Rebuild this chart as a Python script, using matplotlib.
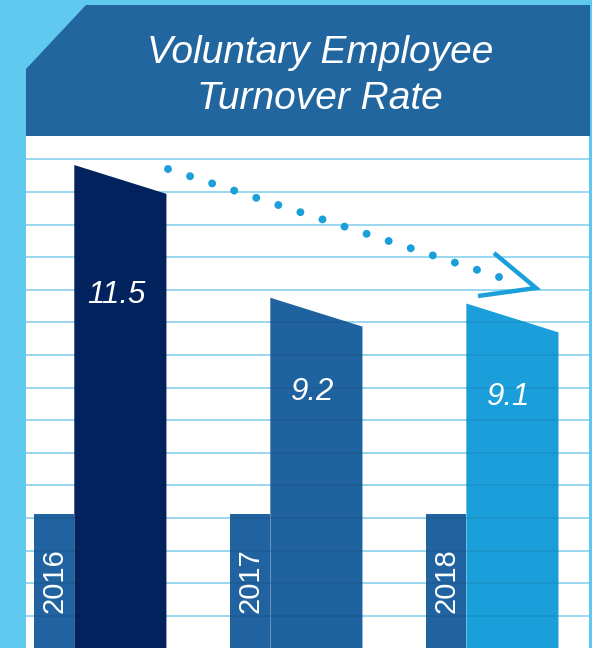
import matplotlib.pyplot as plt
from matplotlib.patches import Polygon, Rectangle

# data
years = ['2016', '2017', '2018']
rates = [11.5, 9.2, 9.1]
value_labels = ['11.5', '9.2', '9.1']
bar_colors = ['#03235F', '#1F62A0', '#1B9FDA']

title_lines = ['Voluntary Employee', 'Turnover Rate']

# styles
SKY = '#5FC9EF'
BANNER = '#2266A0'
TAB = '#2163A0'
GRID = '#92D5F0'
FONT = 'Liberation Sans'

fig = plt.figure(figsize=(5.92, 6.48), dpi=100)
fig.patch.set_facecolor(SKY)

# background decorations in pixel coordinates
bg = fig.add_axes([0, 0, 1, 1], zorder=0)
bg.set_xlim(0, 592)
bg.set_ylim(648, 0)
bg.axis('off')

bg.add_patch(Rectangle((26, 136), 563, 512, facecolor='white', edgecolor='none'))
bg.add_patch(Polygon([(26, 69), (86, 5), (590, 5), (590, 136), (26, 136)],
                     closed=True, facecolor=BANNER, edgecolor='none'))
grid_y = []
y = 159.3
while y < 648:
    grid_y.append(y)
    bg.plot([26, 589], [y, y], color=GRID, lw=1.3, solid_capstyle='butt')
    y += 32.6

bg.text(320, 63, title_lines[0], ha='center', va='baseline', color='white',
        fontsize=28, style='italic', family=FONT)
bg.text(320, 109, title_lines[1], ha='center', va='baseline', color='white',
        fontsize=28, style='italic', family=FONT)

# dotted trend arrow
n_dots = 16
xs = [168 + (499 - 168) * k / (n_dots - 1) for k in range(n_dots)]
ys = [169 + (277 - 169) * k / (n_dots - 1) for k in range(n_dots)]
bg.scatter(xs, ys, s=32, color='#1B9FDA', edgecolors='none', zorder=3)
bg.plot([494, 536, 478], [253, 288, 296], color='#1B9FDA', lw=3.2,
        solid_capstyle='butt', solid_joinstyle='miter', zorder=3)

# bars in data coordinates
ax = fig.add_axes([0, 0, 1, 1], zorder=1)
ax.patch.set_visible(False)
ax.axis('off')
ax.set_xlim(-0.614, 2.406)
ax.set_ylim(3.13, 14.36)

bar_w = 0.47
tab_w = 0.205
tab_top = 5.45
slant = 0.5
base = 3.13
ruling = [3.13 + (648 - gy) / 648 * (14.36 - 3.13) for gy in grid_y]

for i, (yr, v, lab, c) in enumerate(zip(years, rates, value_labels, bar_colors)):
    x0 = i - bar_w / 2
    x1 = i + bar_w / 2
    tab = ax.add_patch(Rectangle((x0 - tab_w, base), tab_w, tab_top - base,
                                 facecolor=TAB, edgecolor='none', zorder=1))
    ax.text(x0 - tab_w / 2, (tab_top + base) / 2, yr, rotation=90, ha='center',
            va='center', color='white', fontsize=21, family=FONT, zorder=3)
    bar = ax.add_patch(Polygon([(x0, base), (x0, v), (x1, v - slant), (x1, base)],
                               closed=True, facecolor=c, edgecolor='none', zorder=2))
    # faint ruling showing through the bars
    for patch, z in ((tab, 1.5), (bar, 2.5)):
        lines = ax.hlines(ruling, x0 - tab_w, x1, color='black', alpha=0.07,
                          lw=1.3, zorder=z)
        lines.set_clip_path(patch)
    ax.text(i - 0.02, v - 0.27 * (v - base), lab, ha='center', va='center',
            color='white', fontsize=22.5, style='italic', family=FONT, zorder=3)

fig.savefig('out.png', dpi=100, facecolor=SKY)
